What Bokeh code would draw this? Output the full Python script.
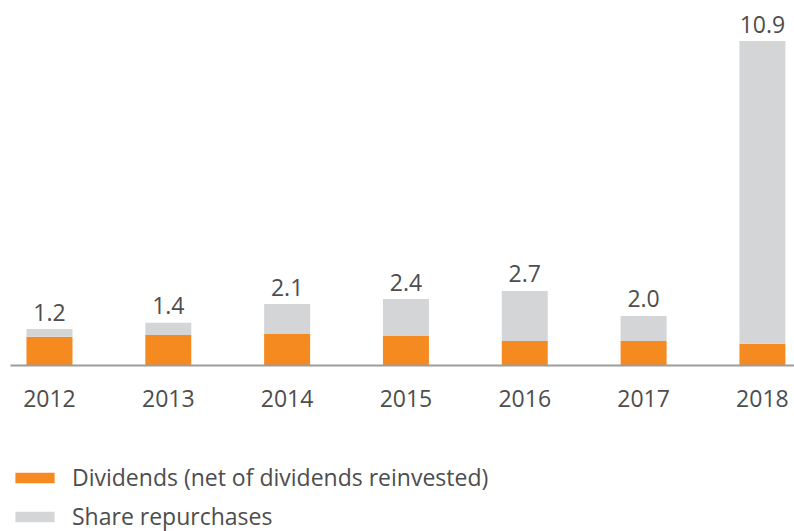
from bokeh.plotting import figure
from bokeh.layouts import column
from bokeh.models import ColumnDataSource, Range1d, FixedTicker, Legend, LegendItem
from bokeh.core.properties import value
from bokeh.embed import file_html
from bokeh.resources import INLINE

years = [2012, 2013, 2014, 2015, 2016, 2017, 2018]
tick_labels = ["2012", "2013", "2014", "2015", "2016", "2017", "2018"]
dividends = [0.96, 1.02, 1.06, 0.99, 0.82, 0.82, 0.73]
repurchases = [0.26, 0.41, 1.00, 1.24, 1.68, 0.84, 10.15]
total_labels = ["1.2", "1.4", "2.1", "2.4", "2.7", "2.0", "10.9"]
series_names = ["Dividends (net of dividends reinvested)", "Share repurchases"]

ORANGE = "#f58a20"
GREY = "#d4d5d7"
TEXT = "#4d4d4d"
FONT = "Open Sans"

tops = [d + r for d, r in zip(dividends, repurchases)]
src = ColumnDataSource(dict(year=years, div=dividends, rep=repurchases,
                            top=tops, lab=total_labels))

p = figure(width=794, height=430, output_backend="svg", toolbar_location=None,
           x_range=Range1d(2011.672, 2018.270), y_range=Range1d(0, 12.24),
           min_border_left=10, min_border_right=0, min_border_top=0,
           min_border_bottom=65)
p.outline_line_color = None
p.xgrid.visible = False
p.ygrid.visible = False
p.yaxis.visible = False

rs = p.vbar_stack(["div", "rep"], x="year", width=0.387, source=src,
                  color=[ORANGE, GREY], line_color=None)

p.text(x="year", y="top", text="lab", source=src, text_align="center",
       text_baseline="alphabetic", y_offset=-17, text_font=value(FONT),
       text_font_size="23px", text_color=TEXT)

ax = p.xaxis[0]
ax.ticker = FixedTicker(ticks=years)
ax.major_label_overrides = {y: t for y, t in zip(years, tick_labels)}
ax.major_tick_line_color = None
ax.minor_tick_line_color = None
ax.axis_line_color = "#9c9c9c"
ax.axis_line_width = 2
ax.major_label_text_font = FONT
ax.major_label_text_font_size = "23px"
ax.major_label_text_color = TEXT
ax.major_label_standoff = 18

# legend panel (proxy bars lie outside its visible range; only the swatches show)
p2 = figure(width=794, height=101, output_backend="svg", toolbar_location=None,
            x_range=Range1d(0, 1), y_range=Range1d(0, 1),
            min_border_left=0, min_border_right=0, min_border_top=0,
            min_border_bottom=0)
p2.outline_line_color = None
p2.axis.visible = False
p2.grid.visible = False
r_div = p2.vbar(x=years, top=dividends, width=0.387, color=ORANGE, line_color=None)
r_rep = p2.vbar(x=years, top=repurchases, width=0.387, color=GREY, line_color=None)

legend = Legend(items=[LegendItem(label=series_names[0], renderers=[r_div]),
                       LegendItem(label=series_names[1], renderers=[r_rep])],
                location=(0, -1), orientation="vertical",
                glyph_width=49, glyph_height=13, label_standoff=13,
                label_height=30, spacing=7, padding=0, margin=0,
                border_line_color=None, background_fill_alpha=0,
                label_text_font=FONT, label_text_font_size="23px",
                label_text_color=TEXT)
p2.add_layout(legend, "center")

layout = column(p, p2, spacing=0)
open("out.html", "w").write(file_html(layout, INLINE))
